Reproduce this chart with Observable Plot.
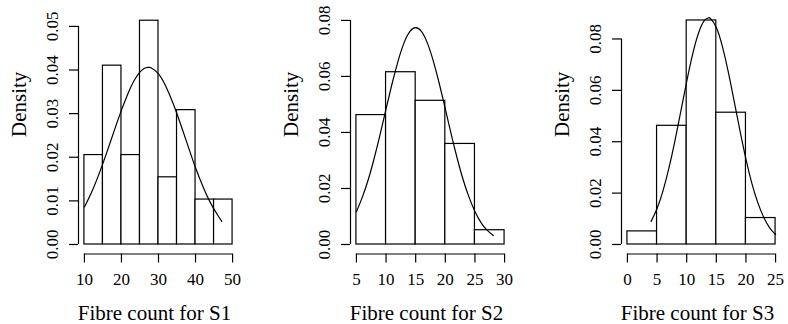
<!DOCTYPE html>
<html><head><meta charset="utf-8">
<script src="https://cdn.jsdelivr.net/npm/d3@7"></script>
<script src="https://cdn.jsdelivr.net/npm/@observablehq/plot@0.6"></script>
<style>
html,body{margin:0;padding:0;background:#fff;}
#chart{position:relative;width:788px;height:324px;overflow:hidden;background:#fff;}
#chart svg{position:absolute;top:0;font-family:"Liberation Serif","Times New Roman",serif !important;}
#chart svg text{font-family:"Liberation Serif","Times New Roman",serif !important;font-weight:normal;}
</style></head><body><div id="chart"></div>
<script>
// Histogram bins (edges) and densities
const s1Edges = [10, 15, 20, 25, 30, 35, 40, 45, 50];
const s1Density = [0.0205, 0.0410, 0.0205, 0.0513, 0.0154, 0.0308, 0.0103, 0.0103];
const s2Edges = [5, 10, 15, 20, 25, 30];
const s2Density = [0.0462, 0.0615, 0.0513, 0.0359, 0.0051];
const s3Edges = [0, 5, 10, 15, 20, 25];
const s3Density = [0.0051, 0.0462, 0.0872, 0.0513, 0.0103];

// Fitted density curves
const s1CurveX = [10, 12, 14, 16, 18, 20, 22, 24, 26, 27.3, 28, 30, 32, 34, 36, 38, 40, 42, 44, 46, 47.1];
const s1CurveY = [0.0086, 0.0121, 0.0163, 0.0210, 0.0260, 0.0308, 0.0351, 0.0384, 0.0403, 0.0406, 0.0405, 0.0391, 0.0362, 0.0322, 0.0275, 0.0225, 0.0176, 0.0133, 0.0096, 0.0067, 0.0053];
const s2CurveX = [5, 6, 7, 8, 9, 10, 11, 12, 13, 14, 15, 16, 17, 18, 19, 20, 21, 22, 23, 24, 25, 26, 27, 28.1];
const s2CurveY = [0.0117, 0.0169, 0.0232, 0.0308, 0.0393, 0.0484, 0.0573, 0.0653, 0.0718, 0.0760, 0.0774, 0.0760, 0.0718, 0.0653, 0.0573, 0.0484, 0.0393, 0.0308, 0.0232, 0.0169, 0.0118, 0.0079, 0.0052, 0.0032];
const s3CurveX = [4, 5, 6, 7, 8, 9, 10, 11, 12, 13, 13.7, 14, 15, 16, 17, 18, 19, 20, 21, 22, 23, 24, 25];
const s3CurveY = [0.0090, 0.0140, 0.0209, 0.0297, 0.0401, 0.0517, 0.0634, 0.0740, 0.0823, 0.0872, 0.0882, 0.0880, 0.0845, 0.0773, 0.0674, 0.0559, 0.0442, 0.0332, 0.0238, 0.0163, 0.0106, 0.0065, 0.0039];

// Axis ticks and labels
const s1XTicks = [10, 20, 30, 40, 50];
const s1YTicks = [0, 0.01, 0.02, 0.03, 0.04, 0.05];
const s2XTicks = [5, 10, 15, 20, 25, 30];
const s2YTicks = [0, 0.02, 0.04, 0.06, 0.08];
const s3XTicks = [0, 5, 10, 15, 20, 25];
const s3YTicks = [0, 0.02, 0.04, 0.06, 0.08];
const xLabels = ["Fibre count for S1", "Fibre count for S2", "Fibre count for S3"];
const yLabel = "Density";

const panels = [
  {edges: s1Edges, density: s1Density, curveX: s1CurveX, curveY: s1CurveY, xTicks: s1XTicks, yTicks: s1YTicks,
   xDomain: [8.4, 51.6], yDomain: [-0.00218, 0.0533], xLabel: xLabels[0], left: -2.5},
  {edges: s2Edges, density: s2Density, curveX: s2CurveX, curveY: s2CurveY, xTicks: s2XTicks, yTicks: s2YTicks,
   xDomain: [4, 31], yDomain: [-0.00339, 0.0830], xLabel: xLabels[1], left: 269.5},
  {edges: s3Edges, density: s3Density, curveX: s3CurveX, curveY: s3CurveY, xTicks: s3XTicks, yTicks: s3YTicks,
   xDomain: [-1, 26], yDomain: [-0.0037, 0.0905], xLabel: xLabels[2], left: 540.8}
];

const fmtY = d3.format(".2f");
const SW = 1.2;
const FONT = "Liberation Serif";

function panel(p) {
  const bars = p.density.map((d, i) => ({x1: p.edges[i], x2: p.edges[i + 1], y: d}));
  const curve = p.curveX.map((x, i) => ({x, y: p.curveY[i]}));
  const svg = Plot.plot({
    width: 272, height: 324,
    marginLeft: 80, marginRight: 32, marginTop: 11.5, marginBottom: 70.5,
    x: {domain: p.xDomain, axis: null},
    y: {domain: p.yDomain, axis: null},
    style: "font-family: 'Liberation Serif', serif; font-size: 17px; background: transparent; color: black; overflow: visible;",
    marks: [
      Plot.rectY(bars, {x1: "x1", x2: "x2", y: "y", fill: "white", stroke: "black", strokeWidth: SW}),
      Plot.line(curve, {x: "x", y: "y", curve: "natural", stroke: "black", strokeWidth: SW}),
      Plot.ruleY([p.yDomain[0]], {x1: p.xTicks[0], x2: p.xTicks[p.xTicks.length - 1], stroke: "black", strokeWidth: SW}),
      Plot.ruleX([p.xDomain[0]], {y1: p.yTicks[0], y2: p.yTicks[p.yTicks.length - 1], stroke: "black", strokeWidth: SW}),
      Plot.axisX(p.xTicks, {tickSize: 9, tickPadding: 10, fontSize: 17, fontFamily: FONT, strokeWidth: SW, label: null}),
      Plot.axisY(p.yTicks, {tickSize: 9, tickFormat: () => "", strokeWidth: SW, label: null}),
      Plot.text(p.yTicks, {x: p.xDomain[0], y: d => d, text: d => fmtY(d), rotate: -90, dx: -26,
        fontSize: 17, fontFamily: FONT, textAnchor: "middle", lineAnchor: "middle"}),
      Plot.text([p.xLabel], {frameAnchor: "bottom", dx: -4, dy: 59, fontSize: 21, fontFamily: FONT, lineAnchor: "middle"}),
      Plot.text([yLabel], {frameAnchor: "left", dx: -59, dy: 4, rotate: -90, fontSize: 21, fontFamily: FONT, lineAnchor: "middle"})
    ]
  });
  svg.style.left = p.left + "px";
  return svg;
}

const root = document.getElementById("chart");
panels.forEach(p => root.appendChild(panel(p)));
</script>
</body></html>
